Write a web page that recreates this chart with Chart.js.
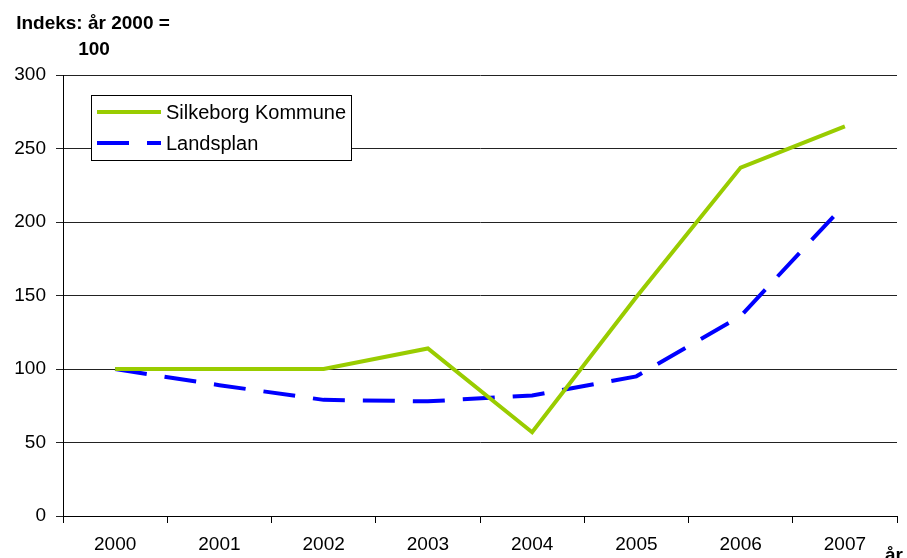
<!DOCTYPE html>
<html>
<head>
<meta charset="utf-8">
<script src="https://cdn.jsdelivr.net/npm/chart.js@4/dist/chart.umd.min.js"></script>
<style>
html,body{margin:0;padding:0;background:#fff;}
#wrap{width:907px;height:558px;position:relative;}
</style>
</head>
<body>
<div id="wrap"><canvas id="c" width="907" height="558"></canvas></div>
<script>
const years = ["2000","2001","2002","2003","2004","2005","2006","2007"];
const silkeborg = [100, 100, 100, 114, 57, 149, 237, 265];
const landsplan = [100, 89, 79, 78, 82, 95, 136, 212];
const yTicks = [0, 50, 100, 150, 200, 250, 300];
const titleLines = ["Indeks: år 2000 =", "100"];
const xAxisTitle = "år";

const FONT = "'Liberation Sans', Arial, sans-serif";

const overlay = {
  id: 'overlay',
  afterDatasetsDraw(chart) {
    const ctx = chart.ctx;
    ctx.save();
    // Title
    ctx.fillStyle = '#000';
    ctx.font = "bold 19px " + FONT;
    ctx.textAlign = 'center';
    ctx.textBaseline = 'alphabetic';
    ctx.fillText(titleLines[0], 93, 29);
    ctx.fillText(titleLines[1], 94, 55);
    // axis title
    ctx.textAlign = 'left';
    ctx.fillText(xAxisTitle, 885, 561);
    // legend box
    const bx = 91.5, by = 95.5, bw = 260, bh = 65;
    ctx.fillStyle = '#fff';
    ctx.fillRect(bx, by, bw, bh);
    ctx.strokeStyle = '#000';
    ctx.lineWidth = 1;
    ctx.strokeRect(bx, by, bw, bh);
    const ds = chart.data.datasets;
    const rows = [112, 143];
    ds.forEach((d, i) => {
      const y = rows[i];
      ctx.strokeStyle = d.borderColor;
      ctx.lineWidth = d.borderWidth;
      ctx.setLineDash(d.borderDash || []);
      ctx.lineCap = 'butt';
      ctx.beginPath();
      ctx.moveTo(97, y);
      ctx.lineTo(161, y);
      ctx.stroke();
      ctx.setLineDash([]);
      ctx.fillStyle = '#000';
      ctx.font = "20px " + FONT;
      ctx.textAlign = 'left';
      ctx.textBaseline = 'middle';
      ctx.fillText(d.label, 166, y + 1);
    });
    ctx.restore();
  }
};

new Chart(document.getElementById('c'), {
  type: 'line',
  data: {
    labels: years,
    datasets: [
      {
        label: 'Silkeborg Kommune',
        data: silkeborg,
        borderColor: '#99CC00',
        backgroundColor: '#99CC00',
        borderWidth: 4,
        pointRadius: 0,
        tension: 0,
        fill: false
      },
      {
        label: 'Landsplan',
        data: landsplan,
        borderColor: '#0000FF',
        backgroundColor: '#0000FF',
        borderWidth: 4,
        borderDash: [32, 18],
        pointRadius: 0,
        tension: 0,
        fill: false
      }
    ]
  },
  options: {
    responsive: false,
    animation: false,
    layout: { padding: { left: 0, top: 75, right: 10, bottom: 0 } },
    plugins: {
      legend: { display: false },
      tooltip: { enabled: false },
      title: { display: false }
    },
    scales: {
      x: {
        type: 'category',
        offset: true,
        grid: {
          offset: true,
          drawOnChartArea: false,
          drawTicks: true,
          tickLength: 7,
          color: '#000',
          lineWidth: 1
        },
        border: { display: true, color: '#000', width: 1 },
        ticks: {
          color: '#000',
          font: { family: FONT, size: 19 },
          padding: 10,
          maxRotation: 0,
          autoSkip: false
        },
        afterFit(scale) { scale.height = 42; }
      },
      y: {
        min: 0,
        max: 300,
        afterBuildTicks(scale) { scale.ticks = yTicks.map(v => ({ value: v })); },
        grid: {
          drawOnChartArea: true,
          drawTicks: true,
          tickLength: 7,
          color: '#222',
          lineWidth: 1
        },
        border: { display: true, color: '#000', width: 1 },
        ticks: {
          color: '#000',
          font: { family: FONT, size: 19 },
          padding: 10
        },
        afterFit(scale) { scale.width = 63; }
      }
    }
  },
  plugins: [overlay]
});
</script>
</body>
</html>
